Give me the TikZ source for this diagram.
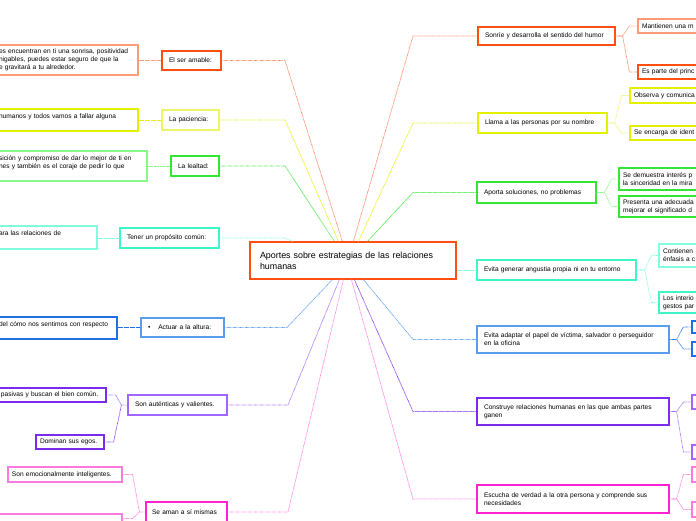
\documentclass[tikz,border=0pt]{standalone}
\usepackage{fontspec}
\setmainfont{Liberation Sans}
\usetikzlibrary{shadows}
\definecolor{OR}{HTML}{FF5011}
\definecolor{SAL}{HTML}{FF9A78}
\definecolor{LOR}{HTML}{FF8060}
\definecolor{YE}{HTML}{E4F000}
\definecolor{YEL}{HTML}{EEF36A}
\definecolor{GR}{HTML}{33E633}
\definecolor{GRL}{HTML}{88F888}
\definecolor{AQ}{HTML}{3DF5C8}
\definecolor{AQL}{HTML}{80FFE0}
\definecolor{BL}{HTML}{5A9CF0}
\definecolor{BLD}{HTML}{1F6FE5}
\definecolor{PU}{HTML}{A066FF}
\definecolor{PUD}{HTML}{7B2BEB}
\definecolor{PK}{HTML}{FF22D0}
\definecolor{PKL}{HTML}{FF7AE0}
\newcommand\fs{\fontsize{6.6}{8}\selectfont}
\newcommand\fc{\fontsize{8.9}{11}\selectfont}
\tikzset{
  box/.style={draw=#1, line width=1.2pt, fill=white, rectangle, inner ysep=0pt,
    font=\fs, align=left, text=black},
  sh/.style={drop shadow={shadow xshift=0.9pt, shadow yshift=-0.9pt, opacity=0.3, fill=black!60}},
  sz/.style n args={3}{text width=#1pt, minimum height=#2pt, inner xsep=#3pt},
  link/.style={draw=#1, line width=0.75pt, dash pattern=on 0.6pt off 0.6pt},
}
\begin{document}
\begin{tikzpicture}[x=1pt,y=-1pt]
\useasboundingbox (0,0) rectangle (696,520);
\coordinate (hl) at (285,0);
\coordinate (hr) at (413,0);

% centre
\node[box=OR, sh, font=\fc, sz={186}{37}{10}] (c) at (353,260.5)
  {Aportes sobre estrategias de las relaciones\\humanas};

% ---- left side ----
\node[box=OR, sh, sz={45}{19}{7}] (ser) at (191.5,60.5) {El ser amable:};
\node[box=SAL, sz={134}{30}{5}] (c1) at (66,60)
  {es encuentran en ti una sonrisa, positividad\\nigables, puedes estar seguro de que la\\e gravitará a tu alrededor.};
\node[box=YEL, sh, sz={43}{20}{7}] (pac) at (190.5,120) {La paciencia:};
\node[box=YE, sz={134}{22}{5}] (c2) at (66,120) {humanos y todos vamos a fallar alguna\\\mbox{}};
\node[box=GR, sh, sz={34}{20}{7}] (leal) at (195,166) {La lealtad:};
\node[box=GRL, sz={143}{30}{5}] (c3) at (70.5,166)
  {sición y compromiso de dar lo mejor de ti en\\nes y también es el coraje de pedir lo que\\\mbox{}};
\node[box=AQ, sh, sz={85}{20}{7}] (prop) at (169.5,238) {Tener un propósito común:};
\node[box=AQL, sz={93}{23}{5}] (c4) at (45.5,237.5) {ara las relaciones de\\\mbox{}};
\node[box=BL, sh, sz={69}{19}{7}] (act) at (182.5,327.5) {•\hspace{8pt}Actuar a la altura:};
\node[box=BLD, sz={113}{22}{5}] (c5) at (55.5,328) {del cómo nos sentimos con respecto\\\mbox{}};
\node[box=PU, sh, sz={85}{20}{7}] (aut) at (177.5,405) {Son auténticas y valientes.};
\node[box=PUD, sz={99}{14}{6}] (c6a) at (50.5,395) {pasivas y buscan el bien común.};
\node[box=PUD, sz={60}{14}{4}] (c6b) at (70,442) {Dominan sus egos.};
\node[box=PK, sh, sz={69}{20}{6}] (aman) at (186.5,512) {Se aman a sí mismas};
\node[box=PKL, sz={106}{15}{4}] (c7a) at (65,474.5) {Son emocionalmente inteligentes.};
\node[box=PKL, sz={118}{16}{5}] (c7b) at (58,522) {};

% ---- right side ----
\node[box=OR, sh, sz={123}{18}{7}] (son) at (546.5,36) {Sonríe y desarrolla el sentido del humor};
\node[box=SAL, sz={74}{14}{4}] (r1a) at (679,26) {Mantienen una m};
\node[box=OR, sz={74}{14}{4}] (r1b) at (679,72) {Es parte del princ};
\node[box=YE, sh, sz={115}{20}{7}] (llama) at (542.5,123) {Llama a las personas por su nombre};
\node[box=YE, sz={82}{15}{4}] (r2a) at (675,95.5) {Observa y comunica};
\node[box=YE, sz={82}{14}{4}] (r2b) at (675,133) {Se encarga de ident};
\node[box=GR, sh, sz={105}{21}{7}] (apo) at (536.5,192.5) {Aporta soluciones, no problemas};
\node[box=GR, sz={93}{22}{4}] (r3a) at (669.5,179) {Se demuestra interés p\\la sinceridad en la mira};
\node[box=GR, sz={93}{21}{4}] (r3b) at (669.5,206.5) {Presenta una adecuada\\mejorar el significado d};
\node[box=AQ, sh, sz={145}{20}{7}] (ev1) at (556.5,270) {Evita generar angustia propia ni en tu entorno};
\node[box=AQL, sz={53}{23}{4}] (r4a) at (689.5,255.5) {Contienen\\énfasis a c};
\node[box=AQ, sz={53}{21}{4}] (r4b) at (689.5,302.5) {Los interio\\gestos par};
\node[box=BL, sh, sz={178}{27}{7}] (ev2) at (573,339.5) {Evita adaptar el papel de víctima, salvador o perseguidor\\en la oficina};
\node[box=BLD, sz={18}{12}{5}] (r5a) at (706,327) {};
\node[box=BLD, sz={18}{14}{5}] (r5b) at (706,349) {};
\node[box=PUD, sh, sz={178}{27}{7}] (con) at (573,411.5) {Construye relaciones humanas en las que ambas partes\\ganen};
\node[box=PU, sz={18}{14}{5}] (r6a) at (706,402) {};
\node[box=PU, sz={18}{14}{5}] (r6b) at (706,452) {};
\node[box=PK, sh, sz={178}{28}{7}] (esc) at (573,499) {Escucha de verdad a la otra persona y comprende sus\\necesidades};
\node[box=PKL, sz={18}{15}{5}] (r7a) at (706,474.5) {};
\node[box=PKL, sz={18}{15}{5}] (r7b) at (706,509.5) {};

% ---- main connectors, left ----
\draw[link=LOR] (ser.east) -- (ser.east -| hl) -- ([xshift=93pt]c.north west);
\draw[link=YE] (pac.east) -- (pac.east -| hl) -- ([xshift=89pt]c.north west);
\draw[link=GR] (leal.east) -- (leal.east -| hl) -- ([xshift=85pt]c.north west);
\draw[link=AQL] (prop.east) -- (prop.east -| hl) -- ([xshift=43pt]c.north west);
\draw[link=BL] (act.east) -- ([xshift=2pt]act.east -| hl) -- ([xshift=83pt]c.south west);
\draw[link=PU] (aut.east) -- ([xshift=3pt]aut.east -| hl) -- ([xshift=90pt]c.south west);
\draw[link=PKL] (aman.east) -- ([xshift=3pt]aman.east -| hl) -- ([xshift=94pt]c.south west);
% ---- main connectors, right ----
\draw[link=LOR] ([xshift=104pt]c.north west) -- (son.west -| hr) -- (son.west);
\draw[link=YE] ([xshift=109pt]c.north west) -- (llama.west -| hr) -- (llama.west);
\draw[link=GR] ([xshift=118pt]c.north west) -- (apo.west -| hr) -- (apo.west);
\draw[link=AQL] (c.east |- ev1.west) -- (ev1.west);
\draw[link=BL] ([xshift=114pt]c.south west) -- (ev2.west -| hr) -- (ev2.west);
\draw[link=PUD] ([xshift=105pt]c.south west) -- (con.west -| hr) -- (con.west);
\draw[link=PKL] ([xshift=102pt]c.south west) -- (esc.west -| hr) -- (esc.west);

% ---- child connectors, left ----
\draw[link=SAL] (c1.east |- ser.west) -- (ser.west);
\draw[link=YE] (c2.east |- pac.west) -- (pac.west);
\draw[link=GRL] (c3.east |- leal.west) -- (leal.west);
\draw[link=AQL] (c4.east |- prop.west) -- (prop.west);
\draw[link=BLD] (c5.east |- act.west) -- (act.west);
\draw[link=PU] (c6a.east) -- ++(9,0) -- ([xshift=-6pt]aut.west) -- (aut.west);
\draw[link=PUD] (c6b.east) -- ++(9,0) -- ([xshift=-6pt]aut.west);
\draw[link=PKL] (c7a.east) -- ++(10,0) -- ([xshift=-6pt]aman.west) -- (aman.west);
\draw[link=PKL] ([yshift=-5pt]c7b.north east) -- ++(10,0) -- ([xshift=-6pt]aman.west);

% ---- child connectors, right ----
\draw[link=SAL] (son.east) -- ++(7,0) -- ([xshift=-8pt]r1a.west) -- (r1a.west);
\draw[link=LOR] (son.east) -- ++(7,0) -- ([xshift=-8pt]r1b.west) -- (r1b.west);
\draw[link=YEL] (llama.east) -- ++(7,0) -- ([xshift=-8pt]r2a.west) -- (r2a.west);
\draw[link=YEL] (llama.east) -- ++(7,0) -- ([xshift=-8pt]r2b.west) -- (r2b.west);
\draw[link=GRL] (apo.east) -- ++(8,0) -- ([xshift=-7pt]r3a.west) -- (r3a.west);
\draw[link=GRL] (apo.east) -- ++(8,0) -- ([xshift=-7pt]r3b.west) -- (r3b.west);
\draw[link=AQL] (ev1.east) -- ++(8,0) -- ([xshift=-7pt]r4a.west) -- (r4a.west);
\draw[link=AQL] (ev1.east) -- ++(8,0) -- ([xshift=-7pt]r4b.west) -- (r4b.west);
\draw[link=BLD] (ev2.east) -- ++(7,0) -- ([xshift=-8pt]r5a.west) -- (r5a.west);
\draw[link=BLD] (ev2.east) -- ++(7,0) -- ([xshift=-8pt]r5b.west) -- (r5b.west);
\draw[link=PU] (con.east) -- ++(7,0) -- ([xshift=-8pt]r6a.west) -- (r6a.west);
\draw[link=PU] (con.east) -- ++(7,0) -- ([xshift=-8pt]r6b.west) -- (r6b.west);
\draw[link=PKL] (esc.east) -- ++(7,0) -- ([xshift=-8pt]r7a.west) -- (r7a.west);
\draw[link=PKL] (esc.east) -- ++(7,0) -- ([xshift=-8pt]r7b.west) -- (r7b.west);
\end{tikzpicture}
\end{document}
